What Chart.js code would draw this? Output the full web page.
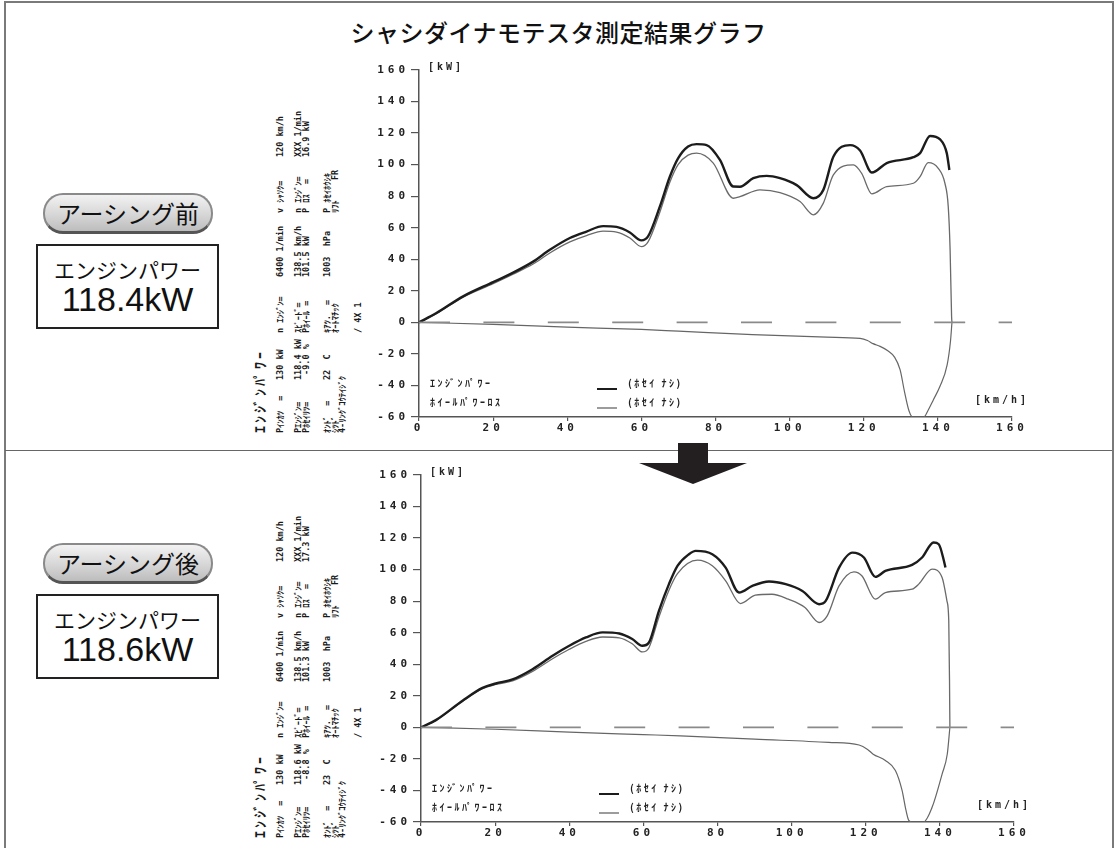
<!DOCTYPE html>
<html>
<head>
<meta charset="utf-8">
<script src="https://cdn.jsdelivr.net/npm/chart.js"></script>
<style>
  body { margin: 0; width: 1117px; height: 848px; overflow: hidden; position: relative; background: #fff;
         font-family: "Noto Sans CJK JP", sans-serif; color: #111; }
  #frame { position: absolute; left: 4px; top: 1px; width: 1106px; height: 900px; border: 2px solid #7a7a7a; border-bottom: none; }
  #divider { position: absolute; left: 5px; top: 450px; width: 1107px; height: 0; border-top: 1.5px solid #666; }
  #title { position: absolute; left: 0; width: 1117px; top: 16px; text-align: center; font-size: 24px; font-weight: 500; letter-spacing: 0.5px; line-height: 32px; }
  .pill { position: absolute; left: 43px; width: 166px; height: 36px; border-radius: 20px; border: 2px solid #8a8a8a; border-bottom: 3px solid #555;
          background: linear-gradient(#f2f2f2, #d6d6d6 55%, #bdbdbd); text-align: center; font-size: 24px; line-height: 36px; }
  .box { position: absolute; left: 36px; width: 179px; height: 81px; border: 2px solid #222; text-align: center; }
  .box .l1 { font-size: 21px; line-height: 22px; margin-top: 12px; }
  .box .l2 { font-family: "Liberation Sans", Arial, sans-serif; font-size: 34px; line-height: 38px; }
  .spec { position: absolute; left: 250px; width: 360px; height: 120px; transform-origin: 0 0; transform: rotate(-90deg); }
  .spec span { position: absolute; white-space: pre; line-height: 1; font-family: "DejaVu Sans Mono", "Noto Sans CJK JP", monospace; font-weight: bold; font-size: 8.5px; color: #1a1a1a; }
  .spec span.big { font-family: "Noto Sans CJK JP"; font-size: 14px; letter-spacing: 3px; font-weight: 700; }
  canvas { position: absolute; }
  #arrow { position: absolute; left: 0; top: 0; z-index: 5; }
</style>
</head>
<body>
<div id="frame"></div>
<div id="title">シャシダイナモテスタ測定結果グラフ</div>
<div id="divider"></div>

<div class="pill" style="top:193px">アーシング前</div>
<div class="box" style="top:244px"><div class="l1">エンジンパワー</div><div class="l2">118.4kW</div></div>
<div class="pill" style="top:543px">アーシング後</div>
<div class="box" style="top:594px"><div class="l1">エンジンパワー</div><div class="l2">118.6kW</div></div>

<div class="spec" id="spec1" style="top:434px"></div>
<div class="spec" id="spec2" style="top:839px"></div>

<canvas id="chart1" width="680" height="395" style="left:360px;top:55px"></canvas>
<canvas id="chart2" width="680" height="395" style="left:362px;top:460px"></canvas>

<svg id="arrow" width="1117" height="848">
  <polygon points="678,443 708,443 708,463 747,463 693,484 639,463 678,463" fill="#231f20"/>
</svg>

<script>
// axis ticks
const speedTicks = [0, 20, 40, 60, 80, 100, 120, 140, 160];
const powerTicks = [-60, -40, -20, 0, 20, 40, 60, 80, 100, 120, 140, 160];

// before earthing: [km/h, kW]
const beforeEngine = [[0,0],[4.7,5.9],[11.9,16.5],[20,25.5],[25.4,31.5],[30.8,38.5],[35.3,46],[40.7,53.5],[45.2,57.6],[49.7,61],[53.3,60.5],[56.9,57],[60,52],[61.8,54.5],[65,73.5],[67.7,92.5],[69.9,104],[72.6,111.5],[74.9,113],[77.6,112.4],[81.2,103],[84.8,86.1],[86.6,86],[90.2,91.4],[93.8,92.9],[97.4,91.4],[101.9,87],[106.4,78.7],[109.1,84],[111.8,105],[116.3,112.4],[119,109],[122.2,95],[126.2,101],[133.4,104.7],[135.2,107.3],[137.9,118.2],[140.6,116],[142.4,107.3],[143.1,96.6]];
const beforeWheel = [[0,0],[4.7,5.5],[11.9,16],[20,24.5],[25.4,30.5],[30.8,37],[35.3,44],[40.7,51],[45.2,55],[49.7,57.8],[53.3,57.2],[56.9,53.5],[60,48],[61.8,51],[65,70],[67.7,89],[69.9,100],[72.6,106],[74.9,107.3],[79.4,101],[84.8,78.7],[86.6,79.7],[92,84],[97.4,82.3],[102.8,76.6],[106.4,68.2],[109.1,75.6],[111.8,93.5],[117.2,99.8],[119.4,94.6],[122.2,81.5],[126.2,86.1],[133.4,88.2],[135.2,92.4],[137.4,101.3],[140.1,97.7],[141.9,88.2],[142.8,73.4],[143.3,46],[143.7,3.8],[143.8,0]];
const beforeLoss = [[0,0],[20,-1.3],[40,-3],[60,-4.5],[70,-5.6],[90,-7.8],[110,-9.4],[119,-10.2],[121,-11.5],[122.5,-13.5],[124.4,-15.2],[126.5,-18],[128.3,-22],[129.8,-30],[131,-44],[132.2,-56],[133.2,-60],[134.7,-60],[136.2,-60],[137.3,-56],[138.8,-49],[140.6,-40.4],[142.5,-27],[143.4,-12],[143.8,0]];

// after earthing
const afterEngine = [[0,0],[4,4.6],[11.2,16.9],[16.6,25],[20.2,27.8],[24.7,30.4],[30.1,36.9],[35.5,45.4],[40,51.7],[44.5,57],[49,60.2],[53.5,59.5],[57,56],[59.7,51.7],[61.5,53.8],[64.2,73.9],[66.9,90.8],[69.2,102.4],[72.3,109.8],[74.1,111.9],[78.6,109.8],[82.2,101.3],[85.8,85.5],[89.4,89.7],[93.9,92.5],[98.4,90.8],[102.9,86.5],[107.4,78.1],[109.2,80.2],[112.8,101.3],[116.4,110.8],[119.5,107.7],[122.6,95.4],[125.3,99.2],[132.5,103],[135.2,107.7],[138.3,117.2],[139.7,116.1],[141.1,105.5],[141.5,101.3]];
const afterWheel = [[0,0],[4,4.3],[11.2,16.5],[16.6,24.5],[20.2,27.2],[24.7,29.5],[30.1,35.5],[35.5,43.5],[40,49.5],[44.5,54.5],[49,57.3],[53.5,56.8],[57,53],[59.7,47.8],[61.5,50.5],[64.2,70],[66.9,87],[69.2,97.5],[74.6,106],[78.6,102.4],[82.2,92.9],[86.2,78.5],[90.2,83.8],[94.7,84.4],[99.1,81.3],[103.6,76],[107.4,66.5],[109.6,70.7],[112.8,89.7],[116.8,98.6],[119,96],[122.6,81.3],[125.3,85.5],[132.5,87.6],[134.3,90.8],[137.9,100.3],[140.6,95],[141.9,80.2],[142.4,67.5],[142.6,30],[142.7,0]];
const afterLoss = [[0,0],[20,-1.2],[40,-3],[60,-4.6],[70,-5.4],[90,-7.5],[110,-9.5],[118.2,-11.2],[120.5,-14],[122,-17],[125.3,-21],[128,-27.4],[129.8,-40],[130.8,-52],[131.6,-59],[132.5,-60],[134,-60],[135.6,-60],[137.9,-50.7],[140.6,-29.6],[142,-16.9],[142.7,0]];

const zeroLine = [[0,0],[160,0]];
const legendNames = ['ｴﾝｼﾞﾝﾊﾟﾜｰ', 'ﾎｲｰﾙﾊﾟﾜｰﾛｽ'];
const legendNote = '(ﾎｾｲ ﾅｼ)';

// printed spec text (rotated): [column offset, offset along, text]
const specBefore = [
  [9, 1, 'ｴﾝｼﾞﾝﾊﾟﾜｰ', 'big'],
  [30, 1, 'Pｲﾝｶﾂ  ='], [30, 54, '130 kW'], [30, 101, 'n ｴﾝｼﾞﾝ='], [30, 157, '6400 1/min'], [30, 221, 'v ｼｬｿｸ='], [30, 277, '120 km/h'],
  [48, 1, 'Pｴﾝｼﾞﾝ='], [48, 54, '118.4 kW'], [48, 101, 'ｽﾋﾟｰﾄﾞ='], [48, 157, '138.5 km/h'], [48, 221, 'n ｴﾝｼﾞﾝ='], [48, 277, 'XXX 1/min'],
  [56.5, 1, 'Pﾎｾｲﾘﾂ='], [56.5, 54, ' -9.0 %'], [56.5, 101, 'Pﾎｲｰﾙ ='], [56.5, 157, '101.5 kW'], [56.5, 221, 'P ﾛｽ  ='], [56.5, 277, '16.9 kW'],
  [77, 1, 'ｵﾝﾄﾞ  ='], [77, 54, '22  C'], [77, 101, 'ｷｱﾂ.  ='], [77, 157, '1003  hPa'], [77, 221, 'P ﾎｾｲﾎｳｼｷ'],
  [85, 1, 'ｼﾂﾄﾞ'], [85, 101, 'ｵｰﾄﾏﾁｯｸ'], [85, 221, 'ﾘﾌﾄ'], [85, 254, 'FR'],
  [92, 1, '4-ﾘﾝｸﾞｺｳﾃｲｼﾞｸ'],
  [108, 101, '/ 4X 1']
];
const afterValues = {'118.4 kW': '118.6 kW', ' -9.0 %': ' -8.8 %', '101.5 kW': '101.3 kW', '16.9 kW': '17.3 kW', '22  C': '23  C'};
const specAfter = specBefore.map(r => [r[0], r[1], afterValues[r[2]] || r[2], r[3]]);

function fillSpec(id, rows) {
  const el = document.getElementById(id);
  rows.forEach(r => {
    const s = document.createElement('span');
    s.textContent = r[2];
    if (r[3]) s.className = r[3];
    const fs = r[3] ? 14 : 8.5;
    s.style.left = r[1] + 'px';
    s.style.top = (r[0] - fs / 2) + 'px';
    el.appendChild(s);
  });
}
fillSpec('spec1', specBefore);
fillSpec('spec2', specAfter);

const toXY = arr => arr.map(p => ({x: p[0], y: p[1]}));
const tickFont = {family: '"DejaVu Sans Mono", monospace', size: 11, weight: 'bold'};

const printPlugin = {
  id: 'print',
  beforeDraw(chart) {
    chart.ctx.letterSpacing = '4px';
  },
  afterDraw(chart) {
    const {ctx, chartArea: a} = chart;
    ctx.save();
    ctx.fillStyle = '#222';
    ctx.textBaseline = 'middle';
    ctx.font = 'bold 10px "DejaVu Sans Mono", monospace';
    ctx.letterSpacing = '3px';
    ctx.fillText('[kW]', a.left + 9, a.top - 3);
    ctx.fillText('[km/h]', a.right - 37, a.bottom - 17);
    ctx.font = 'bold 10px "Noto Sans CJK JP"';
    ctx.letterSpacing = '2.5px';
    const ds = chart.data.datasets;
    [[0, a.bottom - 34, a.bottom - 28], [1, a.bottom - 15, a.bottom - 9]].forEach(([i, ty, ly]) => {
      ctx.fillText(legendNames[i], a.left + 11, ty);
      ctx.fillText(legendNote, a.left + 209, ty);
      ctx.strokeStyle = ds[i + 1].borderColor;
      ctx.lineWidth = i === 0 ? 2 : 1.3;
      ctx.beginPath();
      ctx.moveTo(a.left + 178, ly);
      ctx.lineTo(a.left + 198, ly);
      ctx.stroke();
    });
    ctx.restore();
  }
};

function makeChart(id, engine, wheel, loss) {
  return new Chart(document.getElementById(id), {
    type: 'line',
    data: {
      datasets: [
        { data: toXY(zeroLine), borderColor: '#8a8a8a', borderWidth: 1.6, borderDash: [31, 33.4], tension: 0 },
        { data: toXY(engine), borderColor: '#1c1c1c', borderWidth: 2.4 },
        { data: toXY(loss), borderColor: '#666', borderWidth: 1.2 },
        { data: toXY(wheel), borderColor: '#6a6a6a', borderWidth: 1.3 }
      ]
    },
    options: {
      responsive: false,
      animation: false,
      layout: { padding: { left: 0, top: 15, right: 28, bottom: 13 } },
      elements: { point: { radius: 0 }, line: { cubicInterpolationMode: 'monotone' } },
      plugins: { legend: { display: false }, tooltip: { enabled: false } },
      scales: {
        x: {
          type: 'linear',
          min: speedTicks[0], max: speedTicks[speedTicks.length - 1],
          afterFit: s => { s.height = 20; },
          ticks: { stepSize: speedTicks[1] - speedTicks[0], color: '#222', font: tickFont, padding: 1, maxRotation: 0 },
          grid: { drawOnChartArea: false, tickLength: 4, color: '#555', lineWidth: 1.2 },
          border: { color: '#555', width: 1.5 }
        },
        y: {
          min: powerTicks[0], max: powerTicks[powerTicks.length - 1],
          afterFit: s => { s.width = 59; },
          ticks: { stepSize: powerTicks[1] - powerTicks[0], color: '#222', font: tickFont, padding: 2 },
          grid: { drawOnChartArea: false, tickLength: 8, color: '#555', lineWidth: 1.2 },
          border: { color: '#555', width: 1.5 }
        }
      }
    },
    plugins: [printPlugin]
  });
}

makeChart('chart1', beforeEngine, beforeWheel, beforeLoss);
makeChart('chart2', afterEngine, afterWheel, afterLoss);
</script>
</body>
</html>
